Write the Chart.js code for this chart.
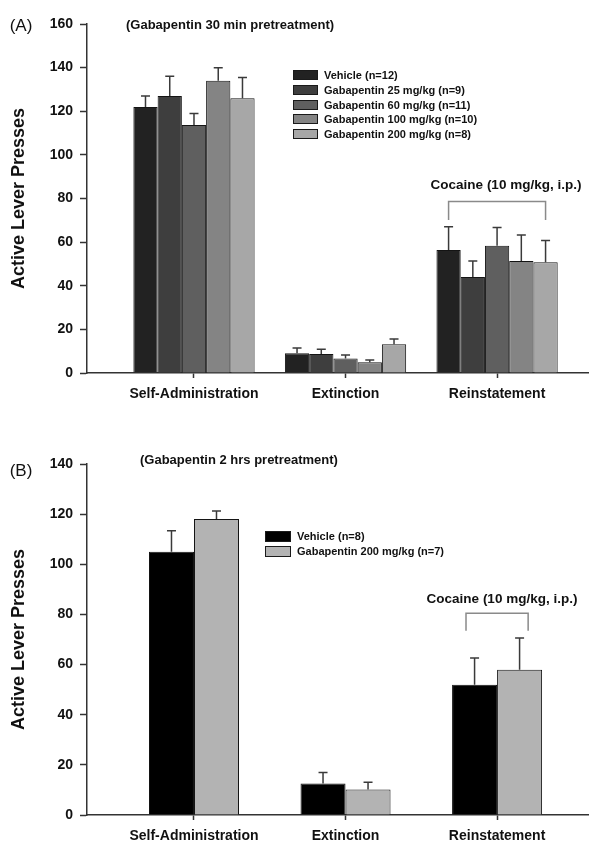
<!DOCTYPE html>
<html><head><meta charset="utf-8">
<script src="https://cdn.jsdelivr.net/npm/chart.js@4.4.0/dist/chart.umd.min.js"></script>
<style>
body{margin:0;background:#fff;font-family:"Liberation Sans",Arial,sans-serif;}
#wrap{position:relative;width:600px;height:849px;overflow:hidden;background:#fff;}
canvas{position:absolute;left:0;}
.t{position:absolute;white-space:nowrap;color:#111;line-height:1;}
.c{transform:translate(-50%,-50%);}
.v{transform:translate(0,-50%);}
.b{font-weight:bold;}
.lg{position:absolute;display:flex;align-items:center;font-weight:bold;font-size:11px;color:#111;transform:translate(0,-50%);white-space:nowrap;}
.sw{display:inline-block;border:1px solid #1a1a1a;box-sizing:border-box;}
</style></head><body>
<div id="wrap">
<canvas id="cA" width="600" height="420" style="top:0"></canvas>
<canvas id="cB" width="600" height="429" style="top:420px"></canvas>
<div class="t c" style="left:21px;top:25px;font-size:17px;">(A)</div>
<div class="t v b" style="left:126px;top:24px;font-size:13px;">(Gabapentin 30 min pretreatment)</div>
<div class="t c b" style="left:506px;top:185px;font-size:13.5px;">Cocaine (10 mg/kg, i.p.)</div>
<div class="t c" style="left:21px;top:470px;font-size:17px;">(B)</div>
<div class="t v b" style="left:140px;top:459px;font-size:13px;">(Gabapentin 2 hrs pretreatment)</div>
<div class="t c b" style="left:502px;top:599px;font-size:13.5px;">Cocaine (10 mg/kg, i.p.)</div>
<div id="legA"></div>
<div id="legB"></div>
</div>
<script>
// ---------- DATA ----------
const categories = ['Self-Administration', 'Extinction', 'Reinstatement'];

// Panel A (30 min pretreatment)
const labelsA = ['Vehicle (n=12)', 'Gabapentin 25 mg/kg (n=9)', 'Gabapentin 60 mg/kg (n=11)', 'Gabapentin 100 mg/kg (n=10)', 'Gabapentin 200 mg/kg (n=8)'];
const vehicleA   = [122.0, 9.0, 56.4];
const vehicleAErr = [5.0, 2.5, 10.6];
const gaba25A    = [127.0, 8.7, 44.0];
const gaba25AErr = [9.0, 2.2, 7.3];
const gaba60A    = [113.7, 6.7, 58.3];
const gaba60AErr = [5.3, 1.5, 8.4];
const gaba100A   = [134.0, 4.9, 51.4];
const gaba100AErr = [6.0, 1.1, 11.9];
const gaba200A   = [126.0, 13.2, 50.8];
const gaba200AErr = [9.5, 2.4, 9.9];
const yTicksA = [0, 20, 40, 60, 80, 100, 120, 140, 160];

// Panel B (2 hrs pretreatment)
const labelsB = ['Vehicle (n=8)', 'Gabapentin 200 mg/kg (n=7)'];
const vehicleB    = [105.0, 12.6, 52.0];
const vehicleBErr = [8.4, 4.4, 10.6];
const gaba200B    = [118.1, 10.2, 57.9];
const gaba200BErr = [3.2, 2.9, 12.7];
const yTicksB = [0, 20, 40, 60, 80, 100, 120, 140];

// ---------- STYLE ----------
const colorsA = ['#222222', '#3e3e3e', '#5f5f5f', '#848484', '#a7a7a7'];
const colorsB = ['#000000', '#b3b3b3'];
const FONT = '"Liberation Sans", Arial, sans-serif';

function ds(label, vals, errs, color) {
  return {
    label, errors: errs,
    data: vals.map((v, i) => ({x: i, y: v})),
    backgroundColor: color, borderColor: '#141414', borderWidth: 1,
    borderSkipped: 'bottom'
  };
}

const errorBarPlugin = {
  id: 'errbars',
  afterDatasetsDraw(chart) {
    const ctx = chart.ctx, ys = chart.scales.y;
    ctx.save();
    ctx.strokeStyle = '#3a3a3a';
    ctx.lineWidth = 1.5;
    chart.data.datasets.forEach((d, di) => {
      const meta = chart.getDatasetMeta(di);
      meta.data.forEach((bar, i) => {
        const top = ys.getPixelForValue(d.data[i].y + d.errors[i]);
        ctx.beginPath();
        ctx.moveTo(bar.x, bar.y);
        ctx.lineTo(bar.x, top);
        ctx.moveTo(bar.x - 4.5, top);
        ctx.lineTo(bar.x + 4.5, top);
        ctx.stroke();
      });
    });
    ctx.restore();
  }
};

const bracketPlugin = {
  id: 'bracket',
  afterDraw(chart, args, opts) {
    if (!opts || !opts.x) return;
    const ctx = chart.ctx, xs = chart.scales.x, ys = chart.scales.y;
    const x1 = xs.getPixelForValue(opts.x[0]), x2 = xs.getPixelForValue(opts.x[1]);
    const yTop = ys.getPixelForValue(opts.y[0]), yLeg = ys.getPixelForValue(opts.y[1]);
    ctx.save();
    ctx.strokeStyle = '#8a8a8a';
    ctx.lineWidth = 1.5;
    ctx.beginPath();
    ctx.moveTo(x1, yLeg); ctx.lineTo(x1, yTop); ctx.lineTo(x2, yTop); ctx.lineTo(x2, yLeg);
    ctx.stroke();
    ctx.restore();
  }
};

function makeChart(id, datasets, ymax, yticks, catPct, pad, bracket) {
  return new Chart(document.getElementById(id), {
    type: 'bar',
    data: {datasets},
    options: {
      responsive: false, animation: false, devicePixelRatio: 1,
      layout: {padding: pad},
      datasets: {bar: {categoryPercentage: catPct, barPercentage: 1.0, grouped: true}},
      plugins: {legend: {display: false}, tooltip: {enabled: false}, bracket},
      scales: {
        x: {
          type: 'linear', min: -0.706, max: 2.6, offset: false,
          afterBuildTicks: s => { s.ticks = categories.map((c, i) => ({value: i})); },
          afterFit: s => { s.height = 34; },
          grid: {offset: false, drawOnChartArea: false, drawTicks: true, tickLength: 5, tickColor: '#333', tickWidth: 1.5},
          border: {display: true, color: '#333', width: 1.5},
          ticks: {callback: v => categories[v], autoSkip: false, maxRotation: 0, padding: 8,
                  color: '#111', font: {family: FONT, size: 14, weight: 'bold'}}
        },
        y: {
          min: 0, max: ymax,
          afterBuildTicks: s => { s.ticks = yticks.map(v => ({value: v})); },
          afterFit: s => { s.width = 87; },
          grid: {drawOnChartArea: false, drawTicks: true, tickLength: 7, tickColor: '#333', tickWidth: 1.5},
          border: {display: true, color: '#333', width: 1.5},
          ticks: {padding: 7, color: '#111', font: {family: FONT, size: 14, weight: 'bold'}},
          title: {display: true, text: 'Active Lever Presses', color: '#111',
                  font: {family: FONT, size: 18, weight: 'bold'}, padding: {top: 8, bottom: 0}}
        }
      }
    },
    plugins: [errorBarPlugin, bracketPlugin]
  });
}

const valsA = [vehicleA, gaba25A, gaba60A, gaba100A, gaba200A];
const errsA = [vehicleAErr, gaba25AErr, gaba60AErr, gaba100AErr, gaba200AErr];
makeChart('cA', labelsA.map((l, i) => ds(l, valsA[i], errsA[i], colorsA[i])), 160, yTicksA, 0.8,
  {top: 24, right: 12, left: 0, bottom: 13},
  {x: [2 - 0.32, 2 + 0.32], y: [78.6, 70.2]});

const valsB = [vehicleB, gaba200B];
const errsB = [vehicleBErr, gaba200BErr];
makeChart('cB', labelsB.map((l, i) => ds(l, valsB[i], errsB[i], colorsB[i])), 140, yTicksB, 0.594,
  {top: 44, right: 12, left: 0, bottom: 0},
  {x: [2 - 0.205, 2 + 0.205], y: [80.5, 73.5]});

// legends
function legend(elId, labels, colors, left, top0, step, sw, sh, gap) {
  const el = document.getElementById(elId);
  labels.forEach((l, i) => {
    const row = document.createElement('div');
    row.className = 'lg';
    row.style.left = left + 'px';
    row.style.top = (top0 + i * step) + 'px';
    row.innerHTML = '<span class="sw" style="width:' + sw + 'px;height:' + sh + 'px;background:' + colors[i] +
      ';margin-right:' + gap + 'px"></span><span>' + l + '</span>';
    el.appendChild(row);
  });
}
legend('legA', labelsA, colorsA, 293, 75, 14.8, 25, 10, 6);
legend('legB', labelsB, colorsB, 265, 536, 15, 26, 11, 6);
</script>
</body></html>
